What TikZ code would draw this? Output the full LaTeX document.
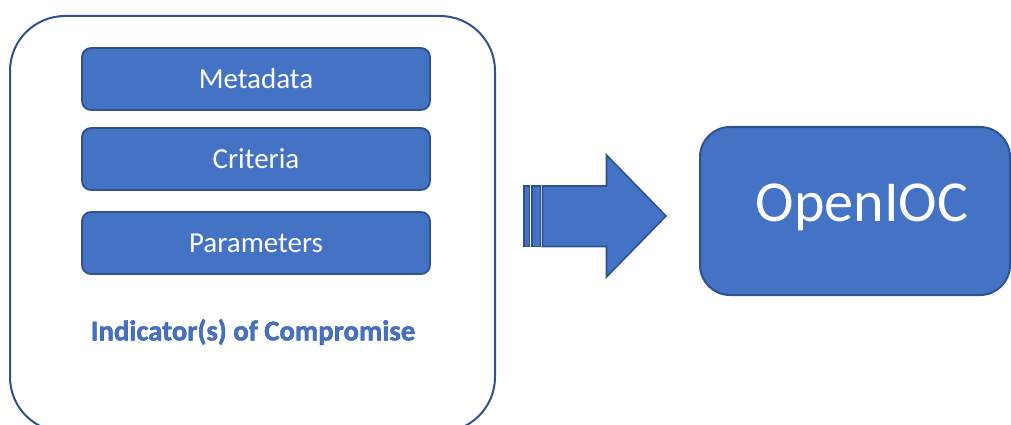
\documentclass[tikz,border=0pt]{standalone}
\usepackage{fontspec}
\setmainfont{Carlito}
\newfontfamily\outlinedbold[FakeBold=1.2]{Carlito Bold}
\definecolor{boxfill}{HTML}{4472C4}
\definecolor{boxline}{HTML}{2F528F}
% fill and stroke colours for the outlined caption
\newcommand{\outlinedtext}[1]{\special{pdf:bcolor [0.267 0.447 0.769] [0.184 0.322 0.561]}#1\special{pdf:ecolor}}
\tikzset{
  panel/.style={draw=boxline, line width=2pt, fill=white, rounded corners=55pt,
    minimum width=485pt, minimum height=416pt, inner sep=0pt},
  partbox/.style={draw=boxline, line width=1.8pt, fill=boxfill, rounded corners=9pt,
    minimum width=348pt, minimum height=62pt, inner sep=0pt, text=white,
    font=\fontsize{29}{34}\selectfont},
  bigbox/.style={draw=boxline, line width=2pt, fill=boxfill, rounded corners=30pt,
    minimum width=310pt, minimum height=168pt, inner sep=0pt, text=white,
    font=\fontsize{58}{68}\selectfont},
  arrowpart/.style={draw=boxline, line width=1.6pt, fill=boxfill, line join=miter}
}
\begin{document}
\begin{tikzpicture}[x=1pt,y=-1pt]
\useasboundingbox (0,0) rectangle (1011,425);
\clip (0,0) rectangle (1011,425);

% container for the indicator parts
\node[panel] (ioc) at (252.5,224) {};
\node[partbox] (meta) at (256,79) {Metadata};
\node[partbox] (crit) at (256,159) {Criteria};
\node[partbox] (param) at (256,243) {Parameters};
\node[font=\outlinedbold\fontsize{28.7}{33}\selectfont, inner sep=0pt]
  (ioclabel) at (253,332) {\outlinedtext{Indicator(s) of Compromise}};

% target format
\node[bigbox] (openioc) at (855,211) {\raisebox{17pt}{\hspace*{14pt}OpenIOC}};

% striped block arrow between the two
\coordinate (tip) at (666,216);
\draw[arrowpart] (524,186) rectangle (529.5,246.5);
\draw[arrowpart] (532,186) rectangle (540.5,246.5);
\draw[arrowpart] (542.5,186) -- (606.5,186) -- (606.5,155) -- (tip)
  -- (606.5,277) -- (606.5,246.5) -- (542.5,246.5) -- cycle;
\end{tikzpicture}
\end{document}
